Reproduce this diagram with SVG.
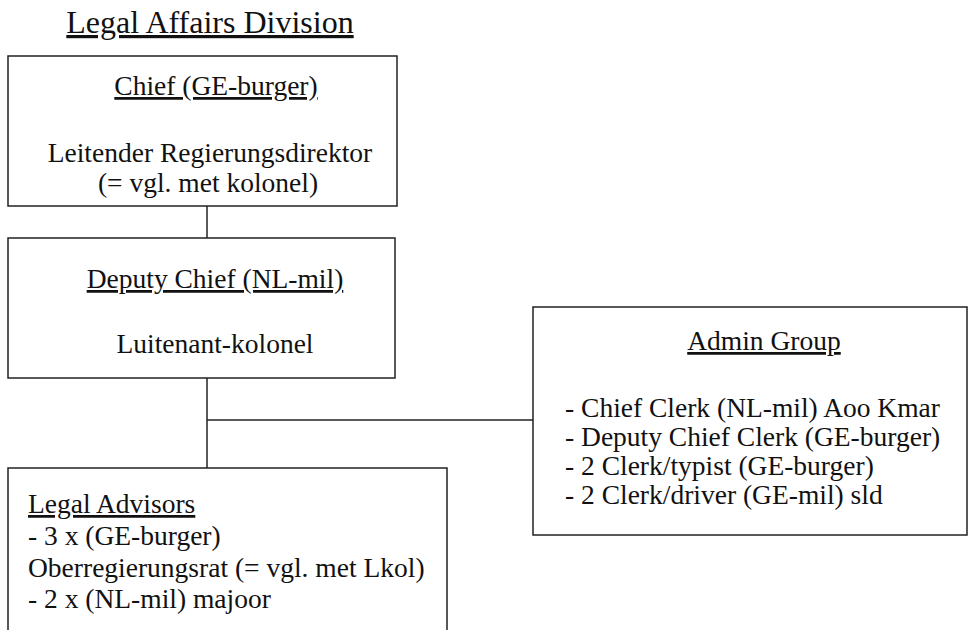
<svg xmlns="http://www.w3.org/2000/svg" width="968" height="630" viewBox="0 0 968 630">
<style>
text{font-family:"Liberation Serif","Times New Roman",serif;fill:#111;font-size:27.5px}
.t{font-size:32px}
.u{text-decoration:underline}
.box{fill:none;stroke:#222;stroke-width:1.5}
.c{stroke:#222;stroke-width:1.5;fill:none}
</style>
<rect width="968" height="630" fill="#fff"/>
<text id="title" class="t u" x="210" y="33" text-anchor="middle">Legal Affairs Division</text>
<g id="connectors">
<line class="c" x1="207" y1="206" x2="207" y2="238"/>
<line class="c" x1="207" y1="378" x2="207" y2="468"/>
<line class="c" x1="207" y1="420" x2="533" y2="420"/>
</g>
<g id="chief">
<rect class="box" x="8" y="56" width="389" height="150"/>
<text class="u" x="216" y="95" text-anchor="middle">Chief (GE-burger)</text>
<text x="210" y="162" text-anchor="middle">Leitender Regierungsdirektor</text>
<text x="208" y="192" text-anchor="middle">(= vgl. met kolonel)</text>
</g>
<g id="deputy">
<rect class="box" x="8" y="238" width="387" height="140"/>
<text class="u" x="215" y="288" text-anchor="middle">Deputy Chief (NL-mil)</text>
<text x="215" y="353" text-anchor="middle">Luitenant-kolonel</text>
</g>
<g id="advisors">
<path class="box" d="M8,632 V468 H447 V632"/>
<text class="u" x="28" y="513">Legal Advisors</text>
<text x="28" y="545">- 3 x (GE-burger)</text>
<text x="28" y="577">Oberregierungsrat (= vgl. met Lkol)</text>
<text x="28" y="608">- 2 x (NL-mil) majoor</text>
</g>
<g id="admin">
<rect class="box" x="533" y="307" width="434" height="228"/>
<text class="u" x="764" y="350" text-anchor="middle">Admin Group</text>
<text x="565" y="417">- Chief Clerk (NL-mil) Aoo Kmar</text>
<text x="565" y="446">- Deputy Chief Clerk (GE-burger)</text>
<text x="565" y="475">- 2 Clerk/typist (GE-burger)</text>
<text x="565" y="504">- 2 Clerk/driver (GE-mil) sld</text>
</g>
</svg>
